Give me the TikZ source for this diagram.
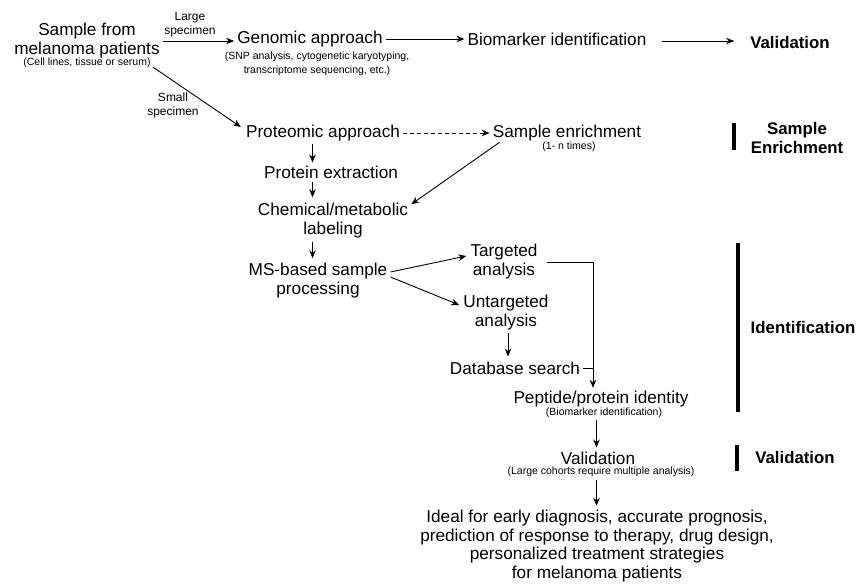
\documentclass[tikz,border=0pt]{standalone}
\usepackage{fontspec}
\setmainfont{Liberation Sans}
\usetikzlibrary{arrows.meta,calc}
\begin{document}
\begin{tikzpicture}[x=1pt,y=-1pt,
  main/.style={font=\fontsize{17.2}{19}\selectfont, align=center, inner sep=3pt},
  subt/.style={font=\fontsize{10.5}{13.5}\selectfont, align=center, inner sep=1pt},
  lab/.style={font=\fontsize{12}{14}\selectfont, align=center, inner sep=1pt},
  stage/.style={font=\bfseries\fontsize{16.8}{19}\selectfont, align=center, inner sep=2pt},
  arr/.style={-{Stealth[length=8pt,width=6.5pt]}, line width=0.9pt},
  conn/.style={line width=0.9pt},
  bar/.style={line width=4.5pt}]
\useasboundingbox (0,0) rectangle (857,584);

% top row
\node[main] (sample) at (87,40.5) {Sample from\\melanoma patients};
\node[subt] (samplesub) at (87,63) {(Cell lines, tissue or serum)};
\node[lab] (large) at (190,25) {Large\\specimen};
\node[main] (genomic) at (310,39) {Genomic approach};
\node[subt] (genomicsub) at (317,64) {(SNP analysis, cytogenetic karyotyping,\\transcriptome sequencing, etc.)};
\node[main] (biomarker) at (557,39) {Biomarker identification};
\node[stage] (valtop) at (790,42) {Validation};

% proteomic branch
\node[lab] (small) at (173,105) {Small\\specimen};
\node[main] (proteomic) at (323,133) {Proteomic approach};
\node[main] (enrich) at (567,133) {Sample enrichment};
\node[subt] (enrichsub) at (569,147) {(1- n times)};
\node[main] (extraction) at (331,172) {Protein extraction};
\node[main] (chem) at (333,221) {Chemical/metabolic\\labeling};
\node[main] (ms) at (318,281) {MS-based sample\\processing};
\node[main] (targeted) at (504,262) {Targeted\\analysis};
\node[main] (untargeted) at (506,313) {Untargeted\\analysis};
\node[main] (database) at (515,368) {Database search};
\node[main] (peptide) at (601,399) {Peptide/protein identity};
\node[subt] (peptidesub) at (604,413) {(Biomarker identification)};
\node[main] (validation) at (598,458) {Validation};
\node[subt] (validationsub) at (601,472) {(Large cohorts require multiple analysis)};
\node[main, font=\fontsize{17.2}{18.7}\selectfont] (ideal) at (597,546) {Ideal for early diagnosis, accurate prognosis,\\prediction of response to therapy, drug design,\\personalized treatment strategies\\for melanoma patients};

% stage labels
\node[stage] (enrstage) at (797,137.5) {Sample\\Enrichment};
\node[stage] (idstage) at (803,327) {Identification};
\node[stage] (valstage) at (795,457) {Validation};

\coordinate (b1a) at (734,123); \coordinate (b1b) at (734,150);
\coordinate (b2a) at (738,243); \coordinate (b2b) at (738,412);
\coordinate (b3a) at (737,445); \coordinate (b3b) at (737,471);
\draw[bar] (b1a) -- (b1b);
\draw[bar] (b2a) -- (b2b);
\draw[bar] (b3a) -- (b3b);

% column coordinates
\coordinate (colA) at (312.5,0);
\coordinate (colB) at (508,0);
\coordinate (colC) at (596.5,0);

% connectors
\draw[arr] (sample.east |- 0,41) -- (genomic.west |- 0,41);
\draw[arr] (genomic.east) -- (biomarker.west);
\draw[arr, shorten <=12pt, shorten >=14pt] (biomarker.east |- 0,41) -- (valtop.west |- 0,41);
\draw[arr] ([xshift=1pt,yshift=-4pt]samplesub.east) -- ([xshift=-2pt,yshift=6pt]proteomic.west);
\draw[arr, dashed, dash pattern=on 4pt off 3pt] (proteomic.east) -- (enrich.west);
\draw[arr] (proteomic.south -| colA) -- (extraction.north -| colA);
\draw[arr] (extraction.south -| colA) -- ([yshift=3pt]chem.north -| colA);
\draw[arr] ([xshift=10pt,yshift=2pt]enrich.south west) -- ([yshift=-4pt]chem.north east);
\draw[arr] (chem.south -| colA) -- ([yshift=2pt]ms.north -| colA);
\draw[arr] ([yshift=9pt]ms.east) -- ([xshift=-1pt,yshift=6pt]targeted.west);
\draw[arr] ([yshift=4pt]ms.east) -- ([xshift=-1pt,yshift=8pt]untargeted.west);
\draw[arr] ([yshift=1pt]untargeted.south -| colB) -- ([yshift=2pt]database.north -| colB);
\coordinate (vj) at ([xshift=-8pt]peptide.north);
\draw[arr] ([xshift=6pt]targeted.east) -| (vj);
\draw[conn] (database.east) -- (database.east -| vj);
\draw[arr] ([yshift=-1pt]peptidesub.south -| colC) -- ([yshift=1pt]validation.north -| colC);
\draw[arr] ([yshift=-2pt]validationsub.south -| colC) -- ([yshift=1pt]ideal.north -| colC);
\end{tikzpicture}
\end{document}
